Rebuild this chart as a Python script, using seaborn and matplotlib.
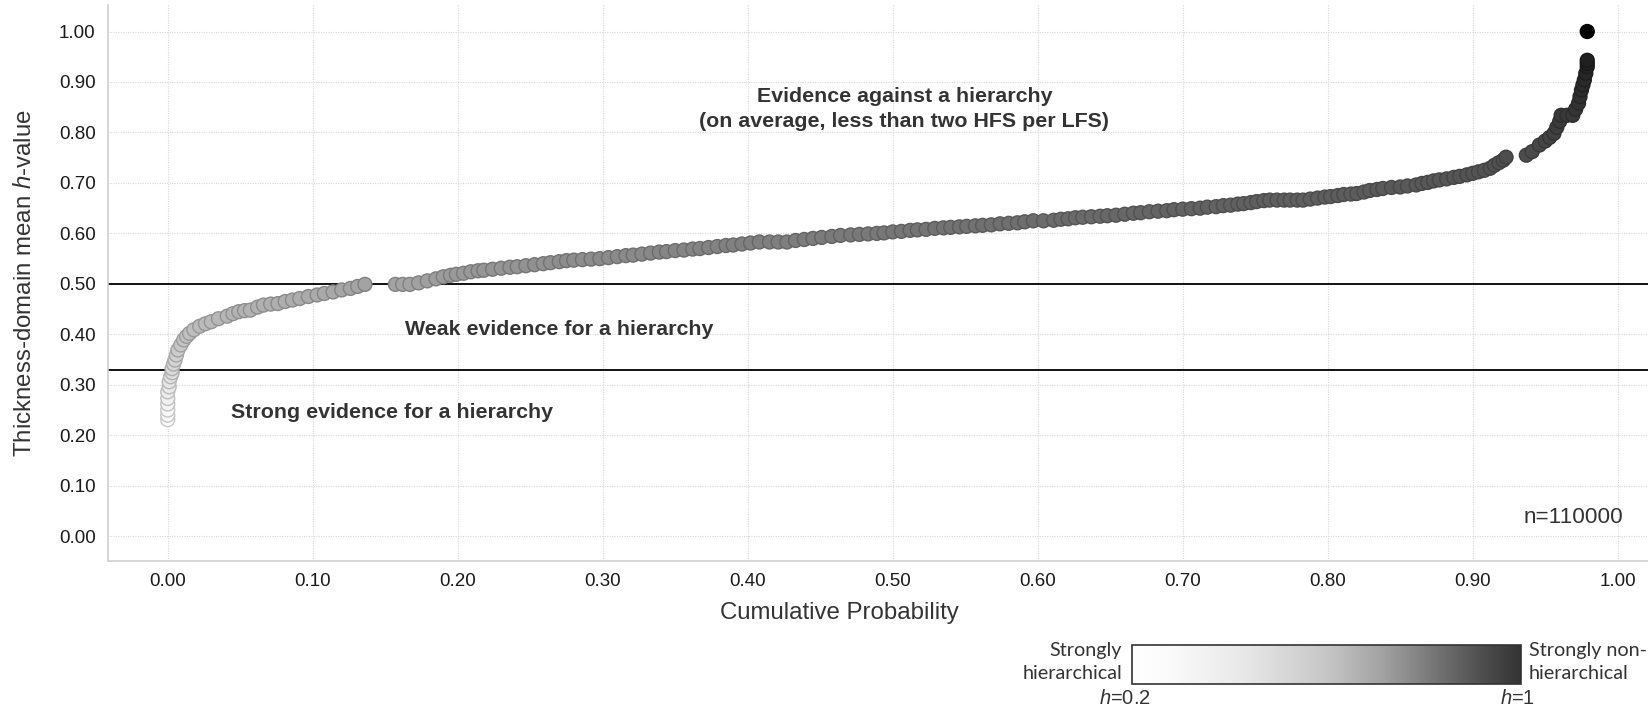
import numpy as np
import pandas as pd
import matplotlib
matplotlib.use("Agg")
import matplotlib.pyplot as plt
from matplotlib.colors import LinearSegmentedColormap, Normalize
from matplotlib.cm import ScalarMappable
import seaborn as sns

# ---- data: cumulative probability vs thickness-domain mean h-value ----
cum_prob = [
    # lower tail
    0.000, 0.000, 0.000, 0.000, 0.000, 0.000, 0.001, 0.001, 0.002, 0.003,
    0.003, 0.004, 0.005, 0.006, 0.007, 0.009, 0.011, 0.013, 0.015, 0.018,
    0.022, 0.026, 0.030, 0.035, 0.041, 0.045, 0.049, 0.053, 0.057, 0.062,
    0.066, 0.071, 0.076, 0.081, 0.086, 0.091, 0.097, 0.103, 0.108, 0.114,
    0.120, 0.126, 0.131, 0.136,
    # central body
    0.157, 0.162, 0.167, 0.173, 0.179, 0.185, 0.190, 0.195, 0.199, 0.204,
    0.209, 0.214, 0.218, 0.224, 0.230, 0.236, 0.241, 0.247, 0.253, 0.259,
    0.264, 0.270, 0.275, 0.280, 0.286, 0.292, 0.298, 0.304, 0.310, 0.316,
    0.321, 0.327, 0.333, 0.339, 0.344, 0.350, 0.356, 0.362, 0.367, 0.373,
    0.379, 0.385, 0.390, 0.396, 0.402, 0.408, 0.415, 0.421, 0.427, 0.433,
    0.439, 0.445, 0.451, 0.458, 0.464, 0.471, 0.477, 0.483, 0.489, 0.494,
    0.500, 0.506, 0.512, 0.517, 0.523, 0.529, 0.535, 0.540, 0.546, 0.551,
    0.557, 0.562, 0.568, 0.574, 0.580, 0.586, 0.591, 0.597, 0.604, 0.611,
    0.616, 0.621, 0.626, 0.631, 0.637, 0.643, 0.648, 0.654, 0.660, 0.666,
    0.671, 0.677, 0.683, 0.689, 0.694, 0.700, 0.706, 0.712, 0.717, 0.723,
    0.728, 0.733, 0.738, 0.742, 0.747, 0.751, 0.756, 0.760, 0.765, 0.770,
    0.774, 0.779, 0.783, 0.788, 0.793, 0.798, 0.802, 0.807, 0.811, 0.816,
    0.820, 0.825, 0.829, 0.834, 0.838, 0.844, 0.850, 0.855, 0.861, 0.865,
    0.869, 0.873, 0.877, 0.882, 0.887, 0.891, 0.896, 0.900, 0.904, 0.908,
    0.912, 0.915, 0.918, 0.921, 0.923,
    # upper tail
    0.937, 0.941, 0.946, 0.950, 0.953, 0.956, 0.958, 0.960, 0.961, 0.965,
    0.969, 0.971, 0.973, 0.974, 0.975, 0.976, 0.977, 0.978, 0.979, 0.979,
    0.979, 0.979,
]
h_value = [
    # lower tail
    0.231, 0.240, 0.250, 0.262, 0.273, 0.286, 0.296, 0.306, 0.316, 0.324,
    0.332, 0.341, 0.349, 0.359, 0.369, 0.379, 0.389, 0.396, 0.402, 0.409,
    0.416, 0.421, 0.425, 0.431, 0.436, 0.441, 0.445, 0.447, 0.448, 0.454,
    0.458, 0.460, 0.461, 0.465, 0.468, 0.471, 0.475, 0.478, 0.481, 0.484,
    0.488, 0.491, 0.495, 0.499,
    # central body
    0.499, 0.499, 0.499, 0.502, 0.506, 0.510, 0.514, 0.517, 0.519, 0.521,
    0.524, 0.526, 0.527, 0.529, 0.531, 0.533, 0.534, 0.536, 0.538, 0.540,
    0.542, 0.544, 0.546, 0.547, 0.548, 0.549, 0.550, 0.552, 0.554, 0.556,
    0.557, 0.559, 0.561, 0.563, 0.564, 0.566, 0.567, 0.569, 0.570, 0.572,
    0.574, 0.576, 0.577, 0.579, 0.581, 0.583, 0.583, 0.583, 0.583, 0.586,
    0.588, 0.590, 0.592, 0.594, 0.596, 0.597, 0.598, 0.599, 0.600, 0.601,
    0.603, 0.604, 0.606, 0.607, 0.608, 0.610, 0.611, 0.612, 0.613, 0.614,
    0.615, 0.616, 0.617, 0.619, 0.620, 0.621, 0.623, 0.625, 0.625, 0.626,
    0.628, 0.629, 0.631, 0.632, 0.633, 0.634, 0.635, 0.636, 0.638, 0.640,
    0.641, 0.643, 0.644, 0.645, 0.647, 0.648, 0.649, 0.650, 0.652, 0.653,
    0.655, 0.656, 0.658, 0.659, 0.661, 0.663, 0.665, 0.666, 0.666, 0.666,
    0.666, 0.666, 0.666, 0.668, 0.670, 0.672, 0.673, 0.675, 0.677, 0.678,
    0.679, 0.682, 0.685, 0.687, 0.689, 0.691, 0.692, 0.694, 0.696, 0.699,
    0.701, 0.704, 0.706, 0.708, 0.711, 0.713, 0.716, 0.719, 0.722, 0.725,
    0.729, 0.735, 0.740, 0.745, 0.751,
    # upper tail
    0.755, 0.762, 0.775, 0.783, 0.790, 0.798, 0.810, 0.822, 0.834, 0.834,
    0.834, 0.846, 0.858, 0.871, 0.884, 0.894, 0.904, 0.917, 0.930, 0.937,
    0.943, 1.000,
]

x_ticks = [0.0, 0.1, 0.2, 0.3, 0.4, 0.5, 0.6, 0.7, 0.8, 0.9, 1.0]
y_ticks = [0.0, 0.1, 0.2, 0.3, 0.4, 0.5, 0.6, 0.7, 0.8, 0.9, 1.0]
thresholds = [0.50, 0.33]
sample_size = 110000

df = pd.DataFrame({"cum_prob": cum_prob, "h": h_value})

# ---- styling ----
sns.set_theme(style="white")
plt.rcParams["font.family"] = ["Liberation Sans", "DejaVu Sans"]
plt.rcParams["mathtext.fontset"] = "custom"
plt.rcParams["mathtext.it"] = "Liberation Sans:italic"
plt.rcParams["mathtext.rm"] = "Liberation Sans"

# grey ramp used for the points (light = hierarchical, dark = non-hierarchical)
pt_nodes = [(0.20, 255), (0.25, 246), (0.30, 232), (0.35, 210), (0.40, 192),
            (0.45, 178), (0.50, 162), (0.55, 140), (0.60, 120), (0.65, 98),
            (0.70, 88), (0.75, 78), (0.80, 64), (0.85, 52), (0.90, 42),
            (0.95, 30), (1.00, 0)]
pt_cmap = LinearSegmentedColormap.from_list(
    "h_grey", [((h - 0.2) / 0.8, (g / 255,) * 3) for h, g in pt_nodes])

# grey ramp for the key bar
key_nodes = [(0.0, 255), (0.1, 250), (0.3, 230), (0.5, 198), (0.65, 160),
             (0.8, 110), (0.9, 78), (1.0, 52)]
key_cmap = LinearSegmentedColormap.from_list(
    "key_grey", [(p, (g / 255,) * 3) for p, g in key_nodes])

fig = plt.figure(figsize=(16.48, 7.08), dpi=100)
ax = fig.add_axes([108 / 1648, 1 - 561 / 708, 1 - 108 / 1648, (561 - 5) / 708])

grid_kw = dict(color="#d8d8d8", linestyle=(0, (1, 1.2)), linewidth=0.8)
for t in x_ticks:
    ax.axvline(t, zorder=0, **grid_kw)
for t in y_ticks:
    ax.axhline(t, zorder=0, **grid_kw)

for t in thresholds:
    ax.axhline(t, color="black", linewidth=1.3, zorder=1)

sns.scatterplot(data=df, x="cum_prob", y="h", hue="h", palette=pt_cmap,
                hue_norm=(0.2, 1.0), s=100, linewidth=1.0, legend=False,
                ax=ax, zorder=3)

# darker outline around each point
coll = ax.collections[-1]
fc = np.array(coll.get_facecolors())
ec = fc.copy()
ec[:, :3] = fc[:, :3] * 0.80
coll.set_edgecolors(ec)

ax.set_xlim(-0.0412, 1.0209)
ax.set_ylim(-0.049, 1.0525)
ax.set_xticks(x_ticks)
ax.set_yticks(y_ticks)
ax.set_xticklabels([f"{t:.2f}" for t in x_ticks])
ax.set_yticklabels([f"{t:.2f}" for t in y_ticks])
ax.tick_params(axis="both", labelsize=13.5, colors="#d0d0d0", labelcolor="#1a1a1a",
               length=4, width=1, pad=5)

for side in ("top", "right"):
    ax.spines[side].set_visible(False)
for side in ("left", "bottom"):
    ax.spines[side].set_color("#d0d0d0")
    ax.spines[side].set_linewidth(1.2)

ax.set_xlabel("Cumulative Probability", fontsize=17.3, color="#333333", labelpad=0)
ax.set_ylabel("Thickness-domain mean $h$-value", fontsize=17.3, color="#333333",
              labelpad=0)
ax.xaxis.set_label_coords((839 - 108) / (1648 - 108), -(613 - 561) / (561 - 5))
ax.yaxis.set_label_coords(-(108 - 25) / (1648 - 108), 0.5)
ax.xaxis.label.set_va("center")
ax.yaxis.label.set_va("center")

txt_kw = dict(fontsize=15.4, fontweight="bold", color="#333333", ha="center",
              va="center")
ax.text(0.508, 0.846, "Evidence against a hierarchy\n(on average, less than two HFS per LFS)",
        linespacing=1.38, **txt_kw)
ax.text(0.270, 0.410, "Weak evidence for a hierarchy", **txt_kw)
ax.text(0.155, 0.246, "Strong evidence for a hierarchy", **txt_kw)
ax.text(1.004, 0.038, f"n={sample_size}", fontsize=16.2, color="#333333",
        ha="right", va="center")

# ---- colour key ----
cax = fig.add_axes([1132 / 1648, 1 - 684 / 708, (1521 - 1132) / 1648, 39 / 708])
cb = fig.colorbar(ScalarMappable(norm=Normalize(0.2, 1.0), cmap=key_cmap),
                  cax=cax, orientation="horizontal")
cb.set_ticks([])
cb.outline.set_linewidth(1.2)
cb.outline.set_edgecolor("#333333")

key_kw = dict(fontsize=14.2, color="#333333", family=["Lato", "DejaVu Sans"],
              linespacing=1.45)
fig.text(1122 / 1648, 1 - 662 / 708, "Strongly\nhierarchical", ha="right",
         va="center", **key_kw)
fig.text(1529 / 1648, 1 - 662 / 708, "Strongly non-\nhierarchical", ha="left",
         va="center", **key_kw)
fig.text(1125 / 1648, 1 - 699 / 708, "$h$=0.2", ha="center", va="center",
         fontsize=14.5, color="#333333")
fig.text(1518 / 1648, 1 - 699 / 708, "$h$=1", ha="center", va="center",
         fontsize=14.5, color="#333333")

fig.savefig("out.png", dpi=100, facecolor="white")
